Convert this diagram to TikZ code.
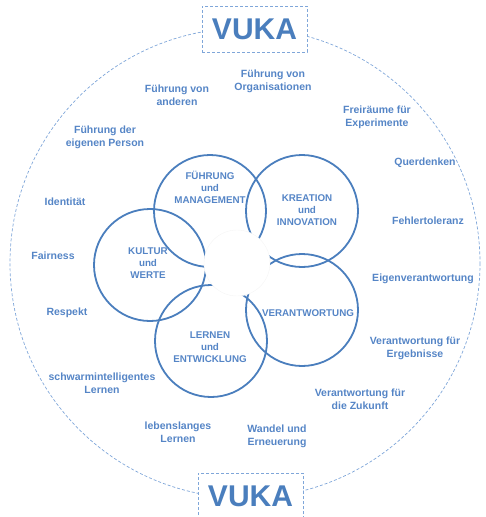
\documentclass[tikz,border=0pt]{standalone}
\usepackage{fontspec}
\setmainfont{Liberation Sans}
\usetikzlibrary{calc}
\definecolor{ringblue}{HTML}{4A7EBD}
\definecolor{dashblue}{HTML}{7FA6D9}
\definecolor{txtblue}{HTML}{5585C6}

\begin{document}
\begin{tikzpicture}[x=1pt,y=-1pt,
  ring/.style={circle, draw=ringblue, line width=1.8pt, minimum size=112pt, inner sep=0pt},
  ringtxt/.style={text=txtblue, font=\bfseries\fontsize{9.8}{12}\selectfont, align=center},
  outlbl/.style={text=txtblue, font=\bfseries\fontsize{10.5}{13}\selectfont, align=center},
  vukabox/.style={draw=dashblue, dash pattern=on 3pt off 2pt, fill=white, line width=.8pt,
    minimum width=105pt, minimum height=46pt, text=ringblue, font=\bfseries\fontsize{30}{30}\selectfont}
]
\useasboundingbox (0,0) rectangle (485,517);
\clip (0,0) rectangle (485,517);
\coordinate (O) at (245,263);
\draw[dashblue, line width=.7pt, dash pattern=on 3pt off 2pt] (O) circle (235);

% the five fields
\node[ring] (fm) at (210,211) {};
\node[ring] (ki) at (302,211) {};
\node[ring] (ve) at (302,310) {};
\node[ring] (le) at (211,341) {};
\node[ring] (kw) at (150,265) {};
\node[circle, fill=white, draw=gray!8, minimum size=66pt] (core) at (237,263) {};

\node[ringtxt] (fmt) at (210,187) {FÜHRUNG\\und\\MANAGEMENT};
\node[ringtxt] (kit) at (307,210) {KREATION\\und\\INNOVATION};
\node[ringtxt] (vet) at (308,313) {VERANTWORTUNG};
\node[ringtxt] (let) at (210,347) {LERNEN\\und\\ENTWICKLUNG};
\node[ringtxt] (kwt) at (148,263) {KULTUR\\und\\WERTE};

% labels round the circle
\foreach \px/\py/\txt [count=\i] in {
  177/95/{Führung von\\anderen},
  273/81/{Führung von\\Organisationen},
  105/137/{Führung der\\eigenen Person},
  377/117/{Freiräume für\\Experimente},
  425/163/{Querdenken},
  65/202/{Identität},
  428/221/{Fehlertoleranz},
  53/256/{Fairness},
  423/279/{Eigenverantwortung},
  67/313/{Respekt},
  415/348/{Verantwortung für\\Ergebnisse},
  102/383/{schwarmintelligentes\\Lernen},
  360/399/{Verantwortung für\\die Zukunft},
  178/432/{lebenslanges\\Lernen},
  277/436/{Wandel und\\Erneuerung}}
  \node[outlbl] (lbl\i) at (\px,\py) {\txt};

\node[vukabox] (vtop) at (254.5,29) {VUKA};
\node[vukabox, anchor=north] (vbot) at (250.5,473) {VUKA};
\end{tikzpicture}
\end{document}
